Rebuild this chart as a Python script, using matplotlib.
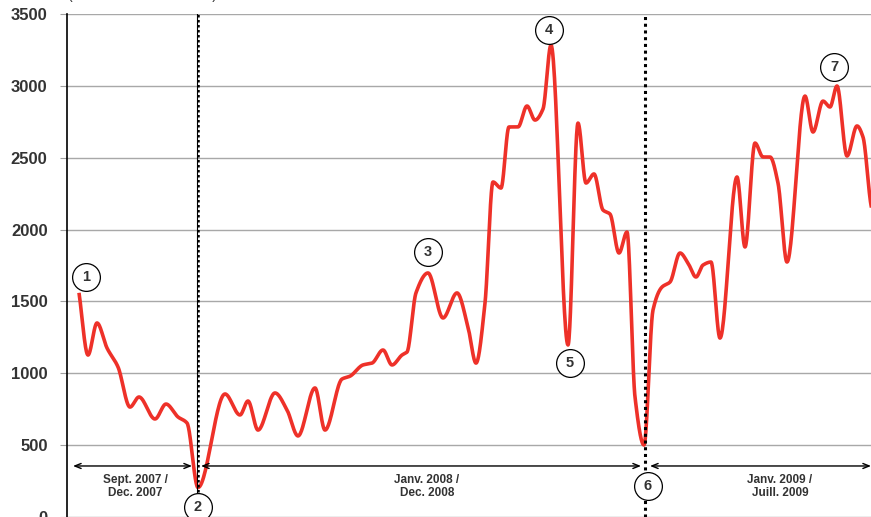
import numpy as np
import matplotlib.pyplot as plt

# positions le long de l'axe (unite arbitraire) et valeurs lues
x_pts = [12, 21, 30, 40, 51, 63, 72, 88, 99, 111, 120, 131,
         158, 173, 181, 191, 208, 220, 231, 248, 258, 275, 283,
         296, 305, 316, 325, 335, 340, 349, 361, 376, 390, 401, 409,
         418, 426, 434, 442, 451, 460, 468, 476, 484, 501, 511, 519,
         527, 536, 543, 552, 560, 568, 577, 586, 595, 603, 613, 621,
         629, 636, 644, 653, 670, 678, 688, 696, 703, 711, 720, 738,
         746, 756, 763, 770, 780, 790, 796, 804, 818]
valeurs = [1560, 1127, 1350, 1176, 1044, 765, 835, 682, 786, 696, 654, 205,
           856, 710, 807, 605, 863, 745, 564, 898, 605, 960, 980,
           1058, 1071, 1162, 1058, 1127, 1148, 1560, 1698, 1385, 1559, 1322, 1071,
           1489, 2331, 2289, 2714, 2714, 2860, 2762, 2839, 3284, 1197, 2741, 2324,
           2387, 2136, 2108, 1837, 1983, 835, 501, 1440, 1600, 1635, 1837, 1767,
           1670, 1753, 1774, 1245, 2366, 1879, 2602, 2505, 2505, 2324, 1774, 2929,
           2679, 2894, 2853, 2999, 2512, 2721, 2644, 2171, 1800]

# reperes numerotes
num_x = [19, 131, 361, 482, 503, 581, 767]
num_y = [1670, 70, 1844, 3389, 1072, 216, 3131]
num_txt = ['1', '2', '3', '4', '5', '6', '7']

periodes = ['Sept. 2007 /\nDec. 2007', 'Janv. 2008 /\nDec. 2008', 'Janv. 2009 /\nJuill. 2009']
per_debut = [6, 134, 583]
per_fin = [125, 574, 804]
per_centre = [68, 360, 713]

coupures = [130, 578]
yticks = [0, 500, 1000, 1500, 2000, 2500, 3000, 3500]


def lisser(x, y, n=30):
    # courbe lissee type pchip (pas de depassement)
    x = np.asarray(x, float)
    y = np.asarray(y, float)
    h = np.diff(x)
    delta = np.diff(y) / h
    d = np.zeros_like(y)
    for k in range(1, len(x) - 1):
        if delta[k - 1] * delta[k] > 0:
            w1 = 2 * h[k] + h[k - 1]
            w2 = h[k] + 2 * h[k - 1]
            d[k] = (w1 + w2) / (w1 / delta[k - 1] + w2 / delta[k])
    d[0] = delta[0]
    d[-1] = delta[-1]
    xs, ys = [], []
    for k in range(len(x) - 1):
        t = np.linspace(0, 1, n)
        h00 = 2 * t**3 - 3 * t**2 + 1
        h10 = t**3 - 2 * t**2 + t
        h01 = -2 * t**3 + 3 * t**2
        h11 = t**3 - t**2
        xs.append(x[k] + t * h[k])
        ys.append(h00 * y[k] + h10 * h[k] * d[k] + h01 * y[k + 1] + h11 * h[k] * d[k + 1])
    return np.concatenate(xs), np.concatenate(ys)


plt.rcParams['font.family'] = ['Liberation Sans', 'DejaVu Sans']

fig = plt.figure(figsize=(8.71, 5.17), dpi=100)
ax = fig.add_axes([67 / 871, 0, 804 / 871, 503 / 517])
ax.set_xlim(0, 804)
ax.set_ylim(0, 3500)

ax.set_yticks(yticks)
ax.set_yticklabels([str(v) for v in yticks], fontsize=12, fontweight='bold', color='#333333')
ax.tick_params(axis='y', length=5, color='#a0a0a0', pad=9)
ax.set_xticks([])
ax.grid(axis='y', color='#a8a8a8', lw=1)
ax.set_axisbelow(True)
for s in ['top', 'right', 'bottom']:
    ax.spines[s].set_visible(False)
ax.spines['left'].set_color('black')
ax.spines['left'].set_linewidth(1.2)

xs, ys = lisser(x_pts, valeurs)
ax.plot(xs, ys, color='#ee3129', lw=2.6, solid_capstyle='butt', zorder=3)

# lignes de coupure
ax.plot([coupures[0], coupures[0]], [174, 3500], color='black', lw=0.8, zorder=4)
ax.plot([coupures[0] + 1, coupures[0] + 1], [174, 3500], color='black', lw=1.8,
        ls=(0, (1, 1)), zorder=4)
ax.plot([coupures[1], coupures[1]], [0, 3500], color='black', lw=2.2,
        ls=(0, (1, 1.2)), zorder=4)

# periodes
for deb, fin, c, lab in zip(per_debut, per_fin, per_centre, periodes):
    ax.annotate('', xy=(deb, 355), xytext=(fin, 355),
                arrowprops=dict(arrowstyle='<->,head_length=0.45,head_width=0.18',
                                color='black', lw=1, shrinkA=0, shrinkB=0))
    ax.text(c, 215, lab, ha='center', va='center', fontsize=8.5, fontweight='bold',
            color='#333333', linespacing=1.1)

ax.scatter(num_x, num_y, s=400, facecolor='white', edgecolor='black', lw=0.9, zorder=5)
for x, y, t in zip(num_x, num_y, num_txt):
    ax.text(x, y, t, ha='center', va='center', fontsize=10.5, fontweight='bold',
            color='#333333', zorder=6)

# titre de l'axe, presque entierement hors cadre
fig.text(68 / 871, 1 + 1 / 517, '(en nombre de contrats)', fontsize=10,
         color='#333333', ha='left', va='baseline')

fig.savefig('out.png', dpi=100)
